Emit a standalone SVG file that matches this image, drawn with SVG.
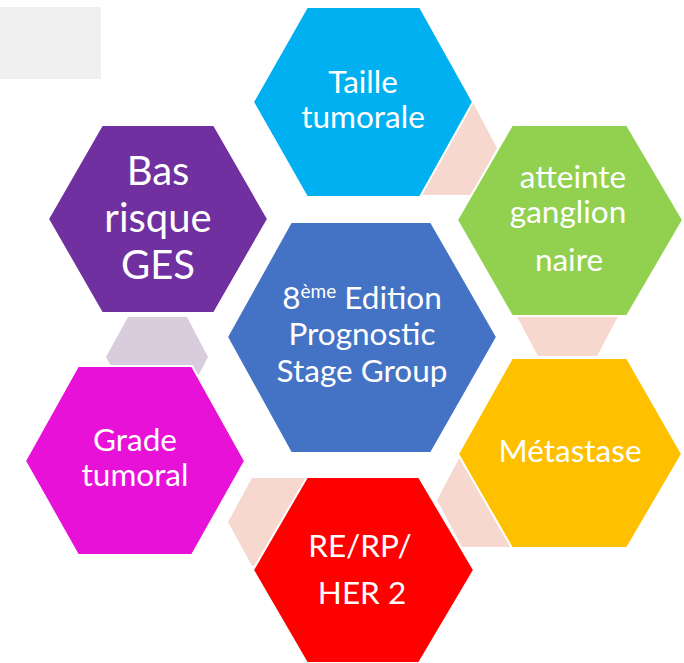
<svg xmlns="http://www.w3.org/2000/svg" width="684" height="663" viewBox="0 0 684 663">
<style>
.hex{stroke:#FFFFFF;stroke-width:2;stroke-linejoin:miter}
.con{fill:#F6D8CE}
.lav{fill:#D9CDDD}
text{font-family:Lato,"Liberation Sans",sans-serif;fill:#FFFFFF;text-anchor:middle;font-size:31.5px}
.big{font-size:40px}
</style>
<rect width="684" height="663" fill="#FFFFFF"/>
<rect x="0" y="7" width="101" height="72" fill="#F0F0F0"/>
<g id="connectors">
<polygon class="con" points="397,148 422,101 472,101 497,148 472,195 422,195"/>
<polygon class="con" points="513,309 538,262 597,262 622,309 597,356 538,356"/>
<polygon class="con" points="437,500 462,453 521,453 546,500 521,547 462,547"/>
<polygon class="con" points="228,522 252,478 308,478 332,522 308,566 252,566"/>
<polygon class="lav" points="106,357 128,317 187,317 208,357 187,397 128,397"/>
</g>
<g id="taille">
<polygon class="hex" fill="#00B0F0" points="253,102 307,7 420,7 473,102 420,197 307,197"/>
<text x="363" y="93">Taille</text>
<text x="363" y="128">tumorale</text>
</g>
<g id="atteinte">
<polygon class="hex" fill="#92D050" points="457,220 512,125 627,125 683,220 627,316 512,316"/>
<text x="573" y="188">atteinte</text>
<text x="568" y="223">ganglion</text>
<text x="569" y="271">naire</text>
</g>
<g id="metastase">
<polygon class="hex" fill="#FFC000" points="458,454 512,358 627,358 682,454 627,548 512,548"/>
<text x="570" y="462">Métastase</text>
</g>
<g id="rerp">
<polygon class="hex" fill="#FF0000" points="253,570 307,477 419,477 474,570 419,663 307,663"/>
<text x="360" y="557">RE/RP/</text>
<text x="362" y="604">HER 2</text>
</g>
<g id="grade">
<polygon class="hex" fill="#E811D8" points="25,461 78,366 192,366 245,461 192,555 78,555"/>
<text x="135" y="451">Grade</text>
<text x="135" y="486">tumoral</text>
</g>
<g id="basrisque">
<polygon class="hex" fill="#7030A0" points="48,219 102,125 214,125 268,219 214,313 102,313"/>
<text class="big" x="158" y="185">Bas</text>
<text class="big" x="158" y="232">risque</text>
<text class="big" x="158" y="279">GES</text>
</g>
<g id="center">
<polygon class="hex" fill="#4472C4" points="227,337 291,222 431,222 497,337 431,453 291,453"/>
<text x="362" y="309">8<tspan font-size="19" dy="-11">ème</tspan><tspan dy="11"> Edition</tspan></text>
<text x="362" y="345">Prognostic</text>
<text x="362" y="382">Stage Group</text>
</g>
</svg>
